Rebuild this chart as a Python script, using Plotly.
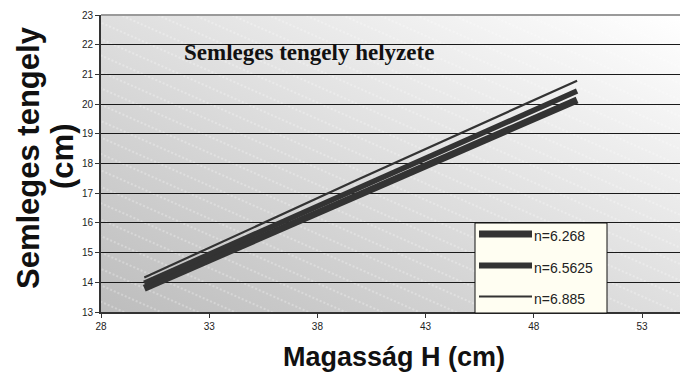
import base64
import plotly.graph_objects as go

# Heights H (cm) and neutral axis position (cm) for three modular ratios
heights = [30, 40, 50]
axis_n6268 = [13.80, 16.99, 20.14]
axis_n65625 = [13.97, 17.22, 20.44]
axis_n6885 = [14.16, 17.50, 20.79]
series_names = ["n=6.268", "n=6.5625", "n=6.885"]
x_ticks = [28, 33, 38, 43, 48, 53]
y_ticks = list(range(13, 24))

W, H = 680, 378
M_L, M_T, M_B, M_R = 101, 15, 66, 0
PW, PH = W - M_L - M_R, H - M_T - M_B
x_scale = 21.64  # px per cm on the x axis

# Plot-area backdrop: diagonal grey gradient with faint white hatching
svg = f"""<svg xmlns='http://www.w3.org/2000/svg' width='{PW}' height='{PH}' viewBox='0 0 {PW} {PH}' preserveAspectRatio='none'>
<defs>
<linearGradient id='g' x1='0' y1='1' x2='1' y2='0'>
<stop offset='0' stop-color='#bdbdbd'/><stop offset='0.55' stop-color='#e2e2e2'/><stop offset='1' stop-color='#ffffff'/>
</linearGradient>
<pattern id='h' width='40' height='15' patternUnits='userSpaceOnUse' patternTransform='rotate(24)'>
<line x1='0' y1='7' x2='40' y2='7' stroke='#ffffff' stroke-opacity='0.55' stroke-width='1' stroke-dasharray='2,2'/>
</pattern>
</defs>
<rect width='{PW}' height='{PH}' fill='url(#g)'/>
<rect width='{PW}' height='{PH}' fill='url(#h)'/>
</svg>"""
bg_uri = "data:image/svg+xml;base64," + base64.b64encode(svg.encode()).decode()

line_color = "#333333"
widths = [7, 5.5, 2.2]
series = [axis_n6268, axis_n65625, axis_n6885]

fig = go.Figure()
for name, vals, w in zip(series_names, series, widths):
    fig.add_trace(go.Scatter(x=heights, y=vals, mode="lines", name=name,
                             line=dict(color=line_color, width=w),
                             showlegend=False))

def px_x(p):
    return (p - M_L) / PW

def px_y(p):
    return (M_T + PH - p) / PH

shapes = [
    # top border of the plot area
    dict(type="line", xref="paper", yref="paper", x0=0, x1=1, y0=1, y1=1,
         line=dict(color="#9a9a9a", width=2)),
    # legend box
    dict(type="rect", xref="paper", yref="paper",
         x0=px_x(475), x1=px_x(607), y0=px_y(313), y1=px_y(223),
         fillcolor="#fffef2", line=dict(color="#111111", width=1), layer="above"),
]
annotations = []
rows_y = [234, 265.5, 296.5]
for name, w, ry in zip(series_names, [7, 6, 2], rows_y):
    shapes.append(dict(type="line", xref="paper", yref="paper",
                       x0=px_x(479), x1=px_x(532), y0=px_y(ry), y1=px_y(ry),
                       line=dict(color=line_color, width=w), layer="above"))
    annotations.append(dict(text=name, xref="paper", yref="paper",
                            x=px_x(532), y=px_y(ry + 2), xanchor="left", yanchor="middle",
                            showarrow=False,
                            font=dict(family="Arial, Liberation Sans", size=14, color="#222222")))

# chart title inside the plot area
annotations.append(dict(text="<b>Semleges tengely helyzete</b>", xref="paper", yref="paper",
                        x=px_x(309), y=px_y(52), xanchor="center", yanchor="middle",
                        showarrow=False,
                        font=dict(family="Times New Roman, Liberation Serif, serif", size=23,
                                  color="#111111")))
# axis titles
annotations.append(dict(text="<b>Semleges tengely</b>", xref="paper", yref="paper",
                        x=px_x(28), y=px_y(158), xanchor="center", yanchor="middle",
                        textangle=-90, showarrow=False,
                        font=dict(family="Arial, Liberation Sans", size=31, color="#111111")))
annotations.append(dict(text="<b>(cm)</b>", xref="paper", yref="paper",
                        x=px_x(62), y=px_y(157), xanchor="center", yanchor="middle",
                        textangle=-90, showarrow=False,
                        font=dict(family="Arial, Liberation Sans", size=31, color="#111111")))
annotations.append(dict(text="<b>Magasság H (cm)</b>", xref="paper", yref="paper",
                        x=px_x(394), y=px_y(357), xanchor="center", yanchor="middle",
                        showarrow=False,
                        font=dict(family="Arial, Liberation Sans", size=27, color="#111111")))

tick_font = dict(family="Arial, Liberation Sans", size=10, color="#222222")

fig.update_layout(
    width=W, height=H,
    margin=dict(l=M_L, r=M_R, t=M_T, b=M_B, pad=0),
    paper_bgcolor="white",
    plot_bgcolor="rgba(0,0,0,0)",
    showlegend=False,
    shapes=shapes,
    annotations=annotations,
    images=[dict(source=bg_uri, xref="paper", yref="paper", x=0, y=1,
                 sizex=1, sizey=1, sizing="stretch", xanchor="left", yanchor="top",
                 layer="below")],
    xaxis=dict(range=[28, 28 + PW / x_scale], tickvals=x_ticks,
               ticktext=[str(v) for v in x_ticks],
               showgrid=False, zeroline=False,
               showline=True, linecolor="#333333", linewidth=2,
               ticks="outside", ticklen=4, tickcolor="#333333", tickwidth=1,
               tickfont=tick_font),
    yaxis=dict(range=[13, 23], tickvals=y_ticks,
               ticktext=[str(v) for v in y_ticks],
               showgrid=True, gridcolor="#1a1a1a", gridwidth=1, zeroline=False,
               showline=True, linecolor="#333333", linewidth=2,
               ticks="outside", ticklen=4, tickcolor="#333333", tickwidth=1,
               tickfont=tick_font),
)

fig.write_html("out.html")
